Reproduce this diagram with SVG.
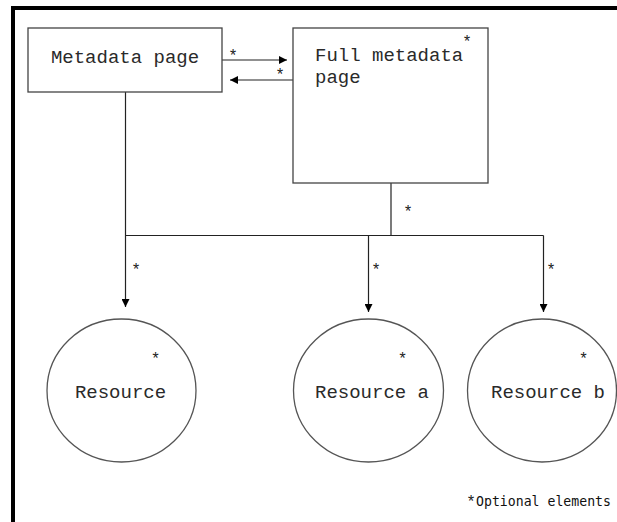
<svg xmlns="http://www.w3.org/2000/svg" width="617" height="522" viewBox="0 0 617 522">
<defs>
<style>
.box{fill:#fff;stroke:#444;stroke-width:1.3}
.circ{fill:#fff;stroke:#555;stroke-width:1.3}
.lbl{font-family:"Liberation Mono","DejaVu Sans Mono",monospace;font-size:19px;fill:#2a2a2a}
.star{font-family:"Liberation Mono","DejaVu Sans Mono",monospace;font-size:16px;fill:#222}
.note{font-family:"DejaVu Sans Mono","Liberation Mono",monospace;font-size:13.2px;fill:#111}
.conn{fill:none;stroke:#222;stroke-width:1.2}
.border{stroke:#000;stroke-width:4;fill:none}
</style>
<marker id="arr" viewBox="0 0 10 10" refX="10" refY="5" markerWidth="8" markerHeight="8" markerUnits="userSpaceOnUse" orient="auto">
<path d="M0,0 L10,5 L0,10 z" fill="#000"/>
</marker>
</defs>
<rect width="617" height="522" fill="#fff"/>
<path class="border" d="M13,522 V8 H617"/>
<g id="connectors">
<line class="conn" x1="222" y1="60" x2="287" y2="60" marker-end="url(#arr)"/>
<line class="conn" x1="293" y1="80" x2="230" y2="80" marker-end="url(#arr)"/>
<line class="conn" x1="125.5" y1="92" x2="125.5" y2="307" marker-end="url(#arr)"/>
<line class="conn" x1="391" y1="183" x2="391" y2="235.5"/>
<line class="conn" x1="125.5" y1="235.5" x2="543.5" y2="235.5"/>
<line class="conn" x1="368.5" y1="235.5" x2="368.5" y2="312" marker-end="url(#arr)"/>
<line class="conn" x1="543.5" y1="235.5" x2="543.5" y2="312" marker-end="url(#arr)"/>
<text class="star" x="233" y="60.5" text-anchor="middle">*</text>
<text class="star" x="280" y="79.5" text-anchor="middle">*</text>
<text class="star" x="408" y="216.5" text-anchor="middle">*</text>
<text class="star" x="136" y="274.5" text-anchor="middle">*</text>
<text class="star" x="376" y="274.5" text-anchor="middle">*</text>
<text class="star" x="551" y="274.5" text-anchor="middle">*</text>
</g>
<g id="metadata-page">
<rect class="box" x="28" y="28" width="194" height="64"/>
<text class="lbl" x="125" y="63" text-anchor="middle">Metadata page</text>
</g>
<g id="full-metadata-page">
<rect class="box" x="293" y="28" width="195" height="155"/>
<text class="lbl" x="315" y="61">Full metadata</text>
<text class="lbl" x="315" y="83">page</text>
<text class="star" x="467" y="46.5" text-anchor="middle">*</text>
</g>
<g id="resource">
<ellipse class="circ" cx="121.5" cy="390.5" rx="74.5" ry="71.5"/>
<text class="lbl" x="120.5" y="398" text-anchor="middle">Resource</text>
<text class="star" x="155.5" y="363.5" text-anchor="middle">*</text>
</g>
<g id="resource-a">
<ellipse class="circ" cx="368.5" cy="390.5" rx="75" ry="71.5"/>
<text class="lbl" x="372" y="398" text-anchor="middle">Resource a</text>
<text class="star" x="402.5" y="363.5" text-anchor="middle">*</text>
</g>
<g id="resource-b">
<ellipse class="circ" cx="542" cy="390.5" rx="74.5" ry="71.5"/>
<text class="lbl" x="548" y="398" text-anchor="middle">Resource b</text>
<text class="star" x="583.5" y="363.5" text-anchor="middle">*</text>
</g>
<g id="legend">
<text class="star" x="471" y="507" text-anchor="middle">*</text>
<text class="note" x="476" y="506">Optional elements</text>
</g>
</svg>
